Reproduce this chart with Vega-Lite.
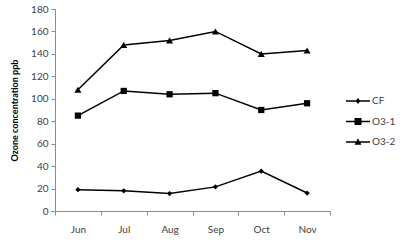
{
  "$schema": "https://vega.github.io/schema/vega-lite/v6.json",
  "width": 275,
  "height": 202,
  "autosize": {"type": "none"},
  "padding": {"left": 55, "top": 9, "right": 70, "bottom": 30},
  "background": "white",
  "config": {
    "view": {"stroke": null},
    "font": "Lato",
    "axis": {"grid": false, "domainColor": "#8c8c8c", "tickColor": "#8c8c8c", "labelColor": "#404040", "labelFontSize": 10, "labelFont": "Lato"}
  },
  "data": {"values": [
    {"month": "Jun", "series": "CF", "value": 19},
    {"month": "Jul", "series": "CF", "value": 18},
    {"month": "Aug", "series": "CF", "value": 15.5},
    {"month": "Sep", "series": "CF", "value": 21.5},
    {"month": "Oct", "series": "CF", "value": 35.5},
    {"month": "Nov", "series": "CF", "value": 16},
    {"month": "Jun", "series": "O3-1", "value": 85},
    {"month": "Jul", "series": "O3-1", "value": 107},
    {"month": "Aug", "series": "O3-1", "value": 104},
    {"month": "Sep", "series": "O3-1", "value": 105},
    {"month": "Oct", "series": "O3-1", "value": 90},
    {"month": "Nov", "series": "O3-1", "value": 96},
    {"month": "Jun", "series": "O3-2", "value": 108},
    {"month": "Jul", "series": "O3-2", "value": 148},
    {"month": "Aug", "series": "O3-2", "value": 152},
    {"month": "Sep", "series": "O3-2", "value": 160},
    {"month": "Oct", "series": "O3-2", "value": 140},
    {"month": "Nov", "series": "O3-2", "value": 143}
  ]},
  "encoding": {
    "x": {"field": "month", "type": "ordinal", "sort": ["Jun", "Jul", "Aug", "Sep", "Oct", "Nov"],
      "scale": {"type": "band", "paddingInner": 0, "paddingOuter": 0},
      "axis": {"title": null, "labelAngle": 0, "tickBand": "extent", "tickSize": 4, "labelPadding": 9}},
    "y": {"field": "value", "type": "quantitative",
      "scale": {"domain": [0, 180], "nice": false},
      "axis": {"title": "Ozone concentration ppb", "titleFontWeight": "bold", "titleFontSize": 9, "titleColor": "#000000", "titleFont": "Lato", "values": [0,20,40,60,80,100,120,140,160,180], "tickSize": 4, "labelPadding": 3, "titlePadding": 11}}
  },
  "layer": [
    {
      "mark": {"type": "line", "color": "black", "strokeWidth": 1.5},
      "encoding": {"detail": {"field": "series"}}
    },
    {
      "mark": {"type": "point", "filled": true, "color": "black", "opacity": 1},
      "encoding": {
        "shape": {"field": "series", "type": "nominal", "scale": {"domain": ["CF", "O3-1", "O3-2"], "range": ["diamond", "square", "triangle-up"]}, "legend": null},
        "size": {"field": "series", "type": "nominal", "scale": {"domain": ["CF", "O3-1", "O3-2"], "range": [28, 50, 45]}, "legend": null}
      }
    },
    {
      "mark": {"type": "point", "filled": true, "color": "black", "opacity": 0},
      "encoding": {
        "shape": {"field": "series", "type": "nominal",
          "scale": {"domain": ["CF", "O3-1", "O3-2"], "range": [
            "M-1.2,-0.075L1.2,-0.075L1.2,0.075L-1.2,0.075ZM0,-0.3L0.24,0L0,0.3L-0.24,0Z",
            "M-1.2,-0.075L1.2,-0.075L1.2,0.075L-1.2,0.075ZM-0.35,-0.35L0.35,-0.35L0.35,0.35L-0.35,0.35Z",
            "M-1.2,-0.075L1.2,-0.075L1.2,0.075L-1.2,0.075ZM0,-0.38L0.34,0.28L-0.34,0.28Z"
          ]},
          "legend": {"title": null, "orient": "none", "legendX": 293, "legendY": 82, "symbolSize": 400, "symbolOpacity": 1, "symbolFillColor": "black", "symbolStrokeWidth": 0, "labelFontSize": 10, "labelColor": "#404040", "labelFont": "Lato", "labelOffset": 4, "rowPadding": 5.5,
            "encode": {"symbols": {"update": {"fill": {"value": "black"}, "opacity": {"value": 1}}}}}
        }
      }
    }
  ],
  "resolve": {"scale": {"shape": "independent", "size": "independent"}, "legend": {"shape": "independent"}}
}
